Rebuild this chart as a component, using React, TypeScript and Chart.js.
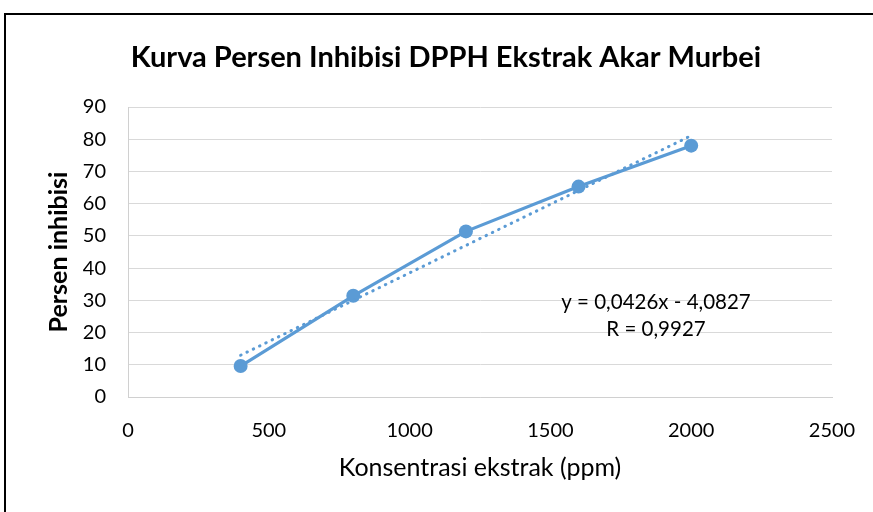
import { useEffect, useRef } from "react";
import { Chart, registerables } from "chart.js";

Chart.register(...registerables);

const concentrations = [400, 800, 1200, 1600, 2000];
const inhibition = [9.6, 31.4, 51.4, 65.3, 78.0];
const trendX = [400, 2000];
const trendY = [12.96, 81.12];
const xTicks = [0, 500, 1000, 1500, 2000, 2500];
const yTicks = [0, 10, 20, 30, 40, 50, 60, 70, 80, 90];
const chartTitle = "Kurva Persen Inhibisi DPPH Ekstrak Akar Murbei";
const xTitle = "Konsentrasi ekstrak (ppm)";
const yTitle = "Persen inhibisi";
const equationLines = ["y = 0,0426x - 4,0827", "R = 0,9927"];

const FONT = "Lato";
const BLUE = "#5B9BD5";

export default function App() {
  const ref = useRef<HTMLCanvasElement | null>(null);

  useEffect(() => {
    if (!ref.current) return;

    const framePlugin = {
      id: "frame",
      beforeDraw(chart: any) {
        const ctx = chart.ctx;
        ctx.save();
        ctx.fillStyle = "#ffffff";
        ctx.fillRect(0, 0, chart.width, chart.height);
        ctx.fillStyle = "#000000";
        ctx.fillRect(4, 13, chart.width, 2);
        ctx.fillRect(4, 13, 2, chart.height);
        ctx.restore();
      },
    };

    const textPlugin = {
      id: "texts",
      afterDraw(chart: any) {
        const ctx = chart.ctx;
        ctx.save();
        ctx.fillStyle = "#000000";
        ctx.textAlign = "center";
        ctx.textBaseline = "alphabetic";
        ctx.font = `bold 29px ${FONT}`;
        ctx.fillText(chartTitle, 446, 67);

        const xs = chart.scales.x;
        const ys = chart.scales.y;
        const ex = xs.getPixelForValue(1875);
        const ey = ys.getPixelForValue(29.4);
        ctx.font = `20.5px ${FONT}`;
        ctx.textBaseline = "middle";
        equationLines.forEach((line, i) => {
          ctx.fillText(line, ex, ey + i * 27);
        });
        ctx.restore();
      },
    };

    const chart = new Chart(ref.current, {
      type: "scatter",
      data: {
        datasets: [
          {
            label: "Linear",
            data: trendX.map((x, i) => ({ x, y: trendY[i] })),
            showLine: true,
            borderColor: BLUE,
            borderWidth: 3,
            borderDash: [0.5, 6.5],
            borderCapStyle: "round",
            pointRadius: 0,
            pointHoverRadius: 0,
            order: 0,
          },
          {
            label: "Persen inhibisi",
            data: concentrations.map((x, i) => ({ x, y: inhibition[i] })),
            showLine: true,
            borderColor: BLUE,
            backgroundColor: BLUE,
            borderWidth: 3.2,
            pointRadius: 7,
            pointBackgroundColor: BLUE,
            pointBorderColor: BLUE,
            pointBorderWidth: 0,
            order: 1,
          },
        ],
      },
      options: {
        animation: false,
        responsive: false,
        events: [],
        layout: { padding: { top: 107, right: 41, bottom: 0, left: 0 } },
        plugins: {
          legend: { display: false },
          title: { display: false },
          tooltip: { enabled: false },
        },
        scales: {
          x: {
            type: "linear",
            min: xTicks[0],
            max: xTicks[xTicks.length - 1],
            afterBuildTicks: (scale: any) => {
              scale.ticks = xTicks.map((v) => ({ value: v }));
            },
            afterFit: (scale: any) => {
              scale.height = 115;
              scale.paddingLeft = 0;
              scale.paddingRight = 0;
            },
            grid: { display: false, drawTicks: false },
            border: { display: true, color: "#D0D0D0", width: 1 },
            ticks: {
              padding: 22,
              color: "#000000",
              font: { family: FONT, size: 20 },
              maxRotation: 0,
              callback: (v: any) => String(v),
            },
            title: {
              display: true,
              text: xTitle,
              color: "#000000",
              font: { family: FONT, size: 25 },
              padding: { top: 0, bottom: 29 },
            },
          },
          y: {
            type: "linear",
            min: yTicks[0],
            max: yTicks[yTicks.length - 1],
            afterBuildTicks: (scale: any) => {
              scale.ticks = yTicks.map((v) => ({ value: v }));
            },
            afterFit: (scale: any) => {
              scale.width = 128;
              scale.paddingTop = 0;
              scale.paddingBottom = 0;
            },
            grid: { display: true, color: "#D9D9D9", lineWidth: 1, drawTicks: false },
            border: { display: true, color: "#D0D0D0", width: 1 },
            ticks: {
              padding: 22,
              color: "#000000",
              font: { family: FONT, size: 20 },
              callback: (v: any) => String(v),
            },
            title: {
              display: true,
              text: yTitle,
              color: "#000000",
              font: { family: FONT, size: 25, weight: "bold" },
              padding: { top: 44, bottom: 0 },
            },
          },
        },
      },
      plugins: [framePlugin, textPlugin],
    } as any);

    return () => chart.destroy();
  }, []);

  return (
    <div
      style={{
        position: "absolute",
        left: 0,
        top: 0,
        width: 873,
        height: 512,
        overflow: "hidden",
        background: "#ffffff",
      }}
    >
      <canvas ref={ref} width={873} height={512} style={{ display: "block" }} />
    </div>
  );
}
